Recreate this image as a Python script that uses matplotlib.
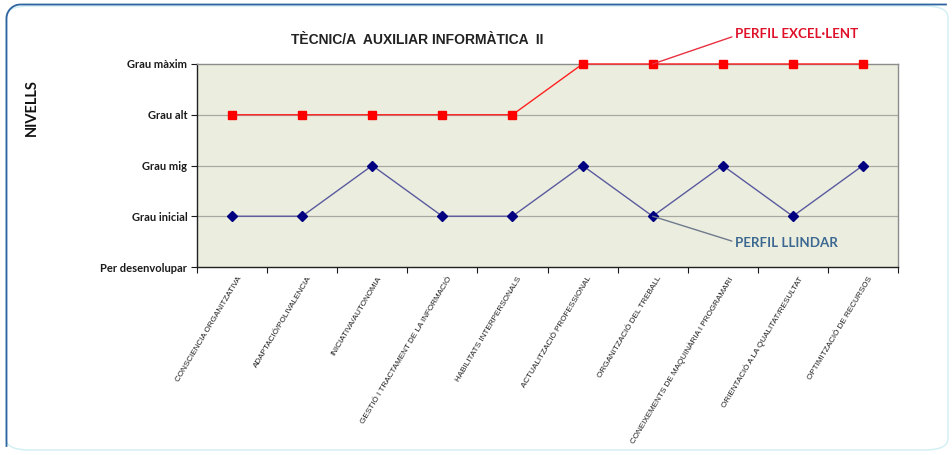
import matplotlib
matplotlib.use("Agg")
import matplotlib.pyplot as plt
import numpy as np
from matplotlib.patches import FancyBboxPatch

categories = [
    "CONSCIENCIA ORGANITZATIVA",
    "ADAPTACIÓ/POLIVALENCIA",
    "INICIATIVA/AUTONOMIA",
    "GESTIÓ I TRACTAMENT DE LA INFORMACIÓ",
    "HABILITATS INTERPERSONALS",
    "ACTUALITZACIÓ PROFESSIONAL",
    "ORGANITZACIÓ DEL TREBALL",
    "CONEIXEMENTS DE MAQUINÀRIA I PROGRAMARI",
    "ORIENTACIÓ A LA QUALITAT/RESULTAT",
    "OPTIMITZACIÓ DE RECURSOS",
]
level_labels = ["Per desenvolupar", "Grau inicial", "Grau mig", "Grau alt", "Grau màxim"]
perfil_excellent = [3, 3, 3, 3, 3, 4, 4, 4, 4, 4]
perfil_llindar = [1, 1, 2, 1, 1, 2, 1, 2, 1, 2]

W, H = 953, 455
fig = plt.figure(figsize=(W / 100, H / 100), dpi=100)
fig.patch.set_facecolor("white")

# outer rounded frame (light), with dark blue top-left edge
frame = FancyBboxPatch((6 / W, 5 / H), 942 / W, 444 / H,
                       boxstyle="round,pad=0,rounding_size=0.025",
                       transform=fig.transFigure, facecolor="none",
                       edgecolor="#CFEFF3", lw=1.0, zorder=-1)
fig.add_artist(frame)
r = 14
t = np.linspace(np.pi, np.pi / 2, 20)
cx, cy = 6.5 + r, 4.5 + r
arc_x = cx + r * np.cos(t)
arc_y = cy - r * np.sin(t)
px = np.concatenate([[6.5], arc_x, [946]])
py = np.concatenate([[446], arc_y, [4.5]])
fig.add_artist(plt.Line2D(px / W, 1 - py / H, color="#2D63A0", lw=1.3,
                          transform=fig.transFigure))

left, right, top, bottom = 197, 898, 64, 267
ax = fig.add_axes([left / W, 1 - bottom / H, (right - left) / W, (bottom - top) / H])
ax.set_facecolor("#EBEEDF")

x = list(range(len(categories)))
ax.set_xlim(-0.5, len(categories) - 0.5)
ax.set_ylim(0, 4)

for yv in [1, 2, 3]:
    ax.axhline(yv, color="#A8A8A0", lw=0.9, zorder=1)

ax.plot(x, perfil_excellent, color="#FF2020", lw=1.0, marker="s", markersize=5.6,
        markerfacecolor="#FF0000", markeredgecolor="#FF0000", zorder=3, clip_on=False)
ax.plot(x, perfil_llindar, color="#5A5A9E", lw=1.0, marker="D", markersize=4.6,
        markerfacecolor="#000080", markeredgecolor="#000080", zorder=3, clip_on=False)

# ticks
ax.set_yticks(range(5))
ax.set_yticklabels(level_labels, fontfamily="Lato", fontweight="bold", fontsize=8, color="#1A1A1A")
ax.tick_params(axis="y", direction="out", length=4, width=0.8, pad=3, colors="#1A1A1A")
ax.set_xticks([i - 0.5 for i in range(len(categories) + 1)])
ax.set_xticklabels([])
ax.tick_params(axis="x", direction="out", length=4, width=0.8, colors="#1A1A1A")
for i, c in enumerate(categories):
    ax.annotate(c, xy=(i, 0), xycoords="data", xytext=(3.5, -6), textcoords="offset points",
                rotation=59, rotation_mode="anchor", ha="right", va="top",
                fontsize=5.9, fontfamily="Liberation Sans", color="#1E1E1E",
                annotation_clip=False)

for s in ["left", "bottom"]:
    ax.spines[s].set_color("#202020")
    ax.spines[s].set_linewidth(1.0)
for s in ["top", "right"]:
    ax.spines[s].set_color("#8C8C8C")
    ax.spines[s].set_linewidth(1.0)

# annotations
ax.annotate("PERFIL EXCEL·LENT", xy=(6, 4), xytext=(7.17, 4.6), textcoords="data",
            fontsize=9.6, fontweight="bold", fontfamily="Lato", color="#E0102A",
            ha="left", va="center", annotation_clip=False,
            arrowprops=dict(arrowstyle="-", color="#E83040", lw=1.0,
                            shrinkA=0, shrinkB=0, relpos=(0, 0.3)))
ax.annotate("PERFIL LLINDAR", xy=(6, 1), xytext=(7.17, 0.47), textcoords="data",
            fontsize=9.6, fontweight="bold", fontfamily="Lato", color="#3B6790",
            ha="left", va="center", annotation_clip=False,
            arrowprops=dict(arrowstyle="-", color="#6E7A8C", lw=1.0,
                            shrinkA=0, shrinkB=0, relpos=(0, 0.6)))

fig.text(417 / W, 1 - 40 / H, "TÈCNIC/A  AUXILIAR INFORMÀTICA  II", ha="center", va="center",
         fontsize=10, fontweight="bold", fontfamily="Liberation Sans", color="#222222")
fig.text(32 / W, 1 - 108 / H, "NIVELLS", rotation=90, ha="center", va="center",
         fontsize=10.5, fontweight="bold", fontfamily="Lato", color="#111111")

fig.savefig("out.png", dpi=100, facecolor="white")
